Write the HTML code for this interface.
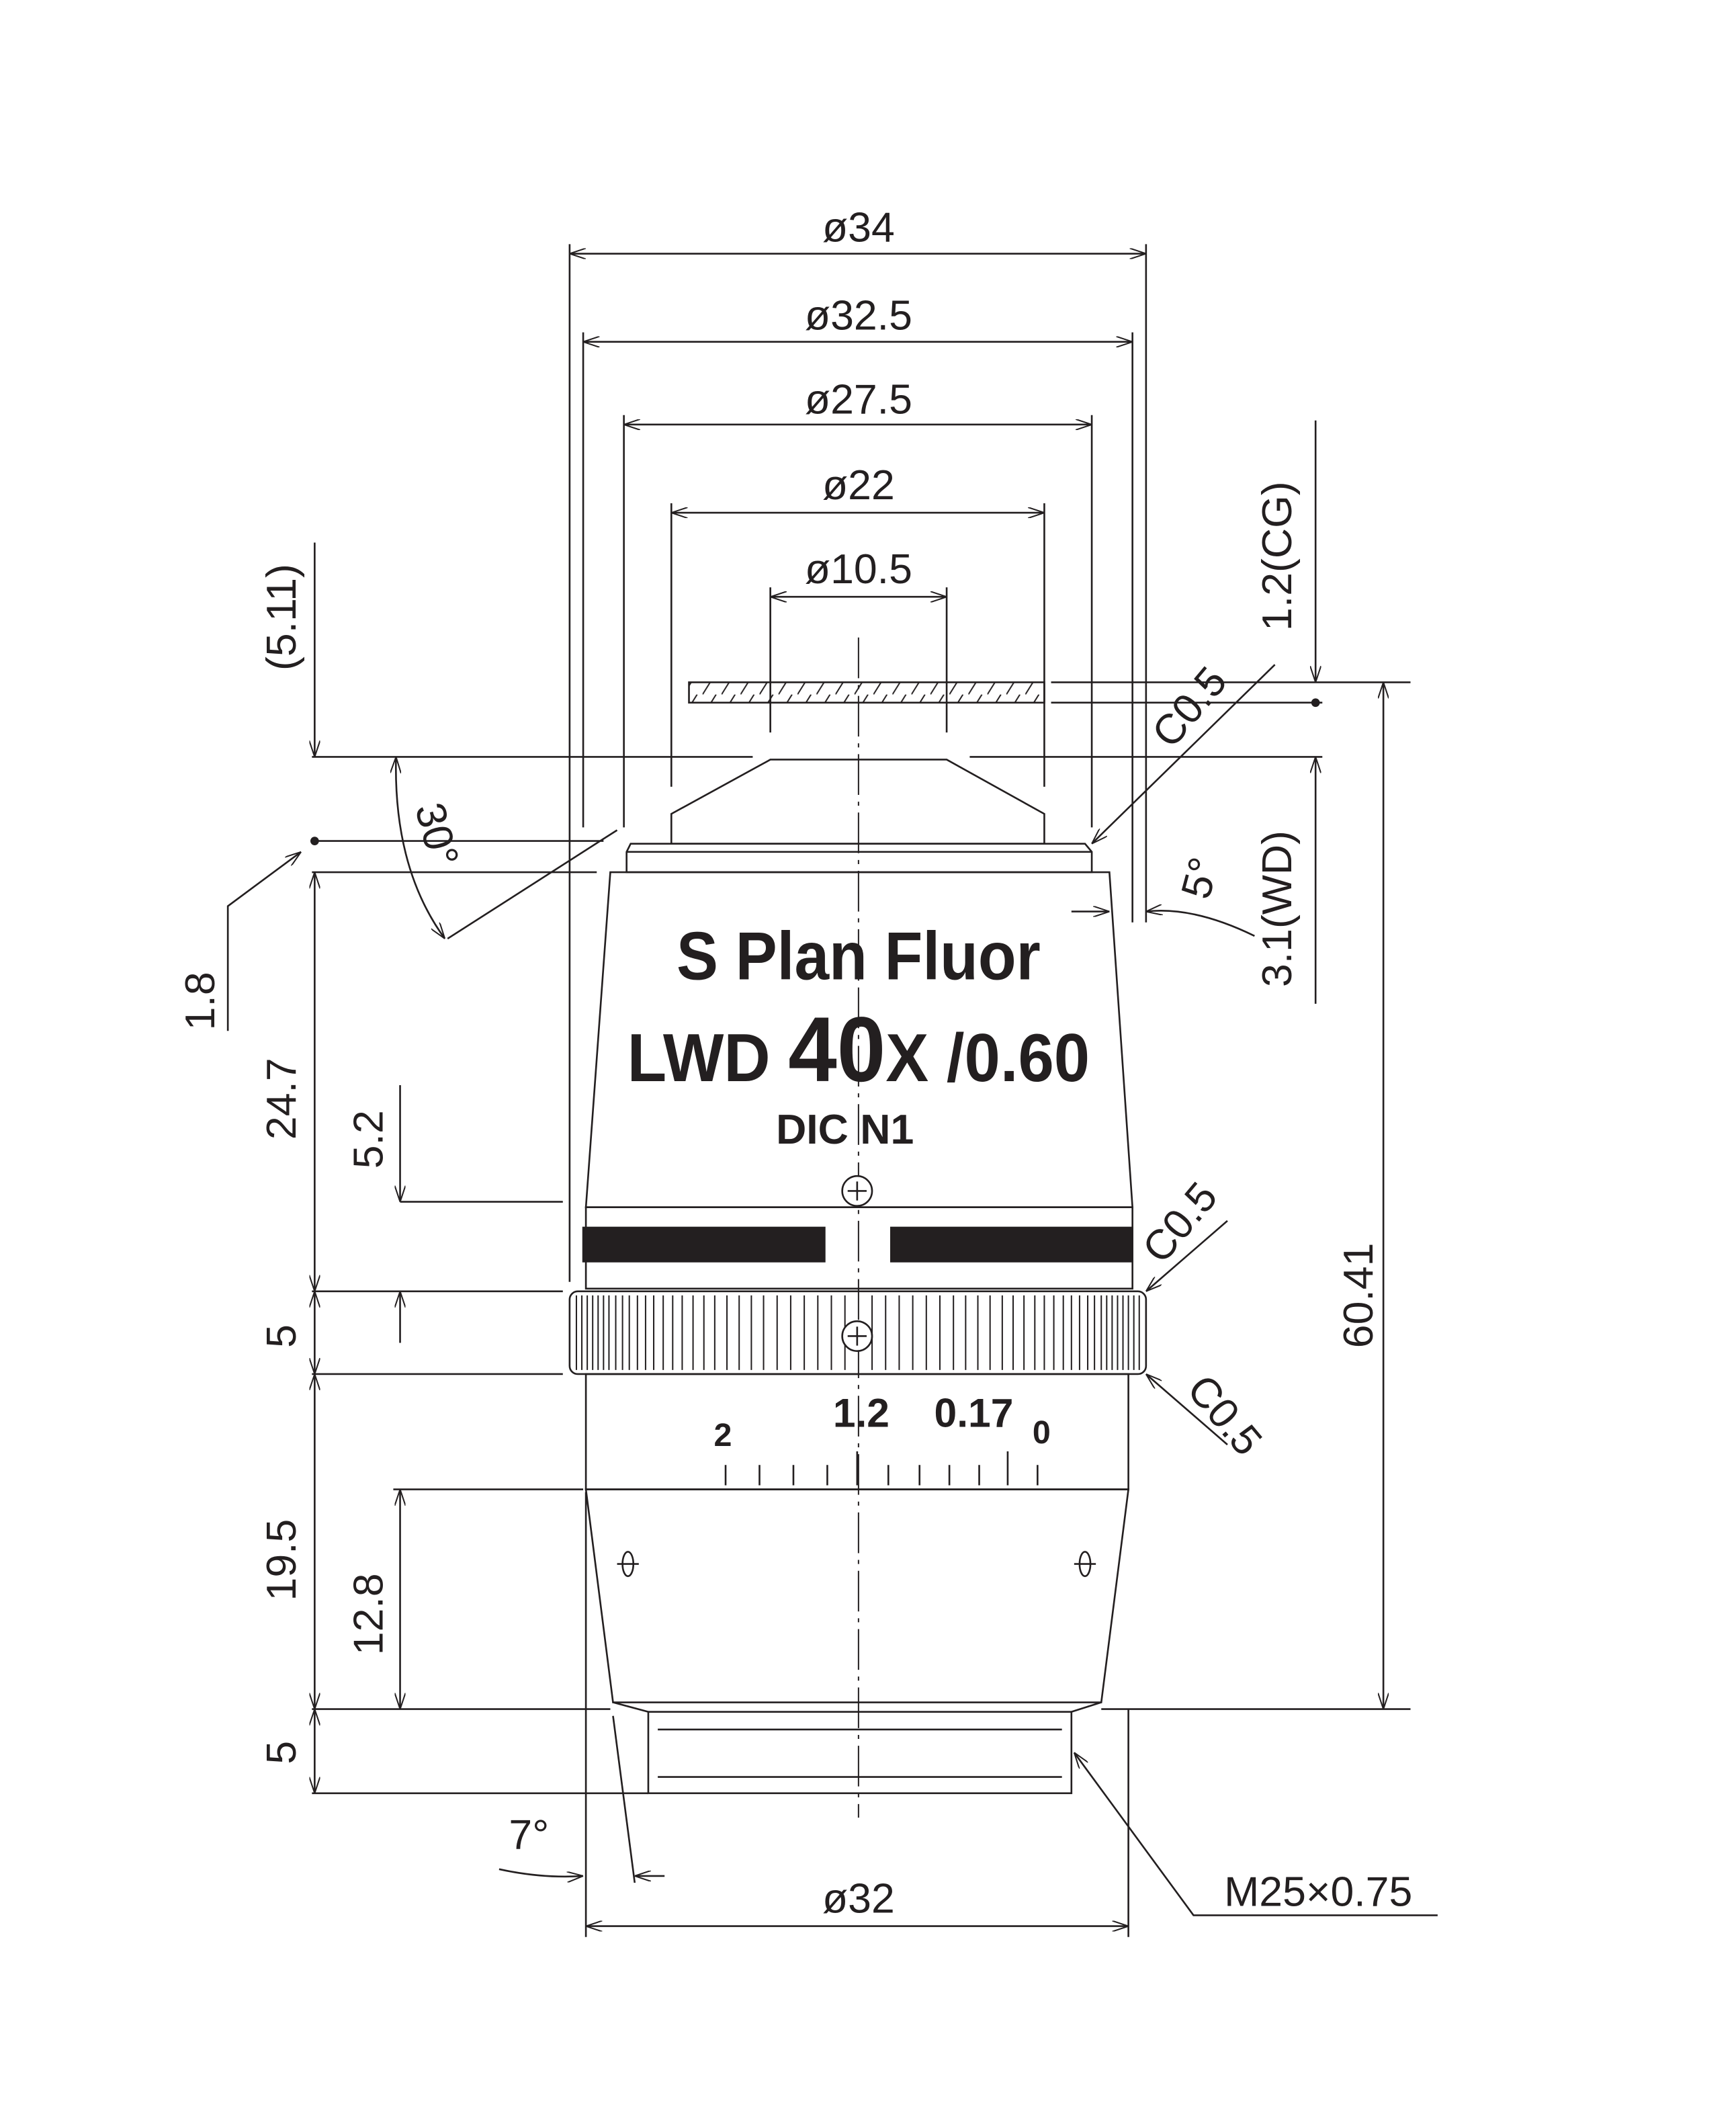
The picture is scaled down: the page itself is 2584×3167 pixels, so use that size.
<!DOCTYPE html>
<html><head><meta charset="utf-8"><style>
html,body{margin:0;padding:0;background:#fff;}
svg{display:block;}
text{font-family:"Liberation Sans",sans-serif;fill:#231f20;}
</style></head><body>
<svg width="2584" height="3167" viewBox="0 0 1280 1568.8" preserveAspectRatio="none" xmlns="http://www.w3.org/2000/svg">
<defs>
<marker id="a" viewBox="0 0 12 8" refX="12" refY="4" markerWidth="12" markerHeight="8" orient="auto-start-reverse" markerUnits="userSpaceOnUse"><path d="M0,0 L12,4 L0,8" fill="none" stroke="#231f20" stroke-width="1"/></marker>
<pattern id="h" width="14" height="16" patternUnits="userSpaceOnUse"><path d="M0,16 L10,0" stroke="#231f20" stroke-width="1"/></pattern>
</defs>
<g stroke="#231f20" stroke-width="1.3" fill="none">
<line x1="420" y1="187" x2="845" y2="187" marker-start="url(#a)" marker-end="url(#a)"/>
<line x1="430" y1="252" x2="835" y2="252" marker-start="url(#a)" marker-end="url(#a)"/>
<line x1="460" y1="313" x2="805" y2="313" marker-start="url(#a)" marker-end="url(#a)"/>
<line x1="495" y1="378" x2="770" y2="378" marker-start="url(#a)" marker-end="url(#a)"/>
<line x1="568" y1="440" x2="698" y2="440" marker-start="url(#a)" marker-end="url(#a)"/>
<line x1="420" y1="180" x2="420" y2="945"/>
<line x1="845" y1="180" x2="845" y2="680"/>
<line x1="430" y1="245" x2="430" y2="610"/>
<line x1="835" y1="245" x2="835" y2="680"/>
<line x1="460" y1="306" x2="460" y2="610"/>
<line x1="805" y1="306" x2="805" y2="610"/>
<line x1="495" y1="371" x2="495" y2="580"/>
<line x1="770" y1="371" x2="770" y2="580"/>
<line x1="568" y1="433" x2="568" y2="540"/>
<line x1="698" y1="433" x2="698" y2="540"/>
<line x1="633" y1="470" x2="633" y2="1340" stroke-width="1" stroke-dasharray="30,5,3,5"/>
<rect x="508" y="503" width="262" height="15" fill="url(#h)"/>
<path d="M568,560 L698,560 L770,600 L770,622 L495,622 L495,600 Z"/>
<path d="M465,622 L800,622 L805,628 L805,643 L462,643 L462,628 Z"/>
<line x1="462" y1="628" x2="805" y2="628"/>
<path d="M450,643 L818,643 L835,890 L432,890 Z"/>
<rect x="432" y="890" width="403" height="60"/>
<rect x="430" y="905" width="178" height="25" fill="#231f20"/>
<rect x="657" y="905" width="178" height="25" fill="#231f20"/>
<rect x="420" y="952" width="425" height="61" rx="6"/>
<g stroke-width="1">
<path d="M425,955 V1010 M429,955 V1010 M433,955 V1010 M437,955 V1010 M441,955 V1010 M445,955 V1010 M840,955 V1010 M836,955 V1010 M832,955 V1010 M828,955 V1010 M824,955 V1010 M820,955 V1010"/>
<path d="M449,955 V1010 M454,955 V1010 M459,955 V1010 M464,955 V1010 M470,955 V1010 M476,955 V1010 M482,955 V1010 M489,955 V1010 M496,955 V1010 M503,955 V1010 M511,955 V1010 M519,955 V1010 M527,955 V1010 M536,955 V1010 M545,955 V1010 M554,955 V1010 M563,955 V1010 M573,955 V1010 M583,955 V1010 M593,955 V1010 M603,955 V1010 M613,955 V1010 M623,955 V1010 M643,955 V1010 M653,955 V1010 M663,955 V1010 M673,955 V1010 M683,955 V1010 M693,955 V1010 M703,955 V1010 M712,955 V1010 M721,955 V1010 M730,955 V1010 M739,955 V1010 M747,955 V1010 M755,955 V1010 M763,955 V1010 M770,955 V1010 M777,955 V1010 M784,955 V1010 M790,955 V1010 M796,955 V1010 M802,955 V1010 M807,955 V1010 M812,955 V1010 M816,955 V1010"/>
</g>
<rect x="432" y="1013" width="400" height="85"/>
<path d="M432,1098 L832,1098 L812,1255 L452,1255 Z"/>
<rect x="478" y="1262" width="312" height="60"/>
<line x1="485" y1="1275" x2="783" y2="1275"/>
<line x1="485" y1="1310" x2="783" y2="1310"/>
<line x1="452" y1="1255" x2="478" y2="1262"/>
<line x1="812" y1="1255" x2="790" y2="1262"/>
<path d="M535,1080 V1095 M560,1080 V1095 M585,1080 V1095 M610,1080 V1095 M632,1070 V1095 M655,1080 V1095 M678,1080 V1095 M700,1080 V1095 M722,1080 V1095 M743,1070 V1095 M765,1080 V1095"/>
<circle cx="632" cy="878" r="11" fill="#fff"/><path d="M632,871 V885 M625,878 H639"/>
<circle cx="632" cy="985" r="11" fill="#fff"/><path d="M632,978 V992 M625,985 H639"/>
<ellipse cx="463" cy="1153" rx="4" ry="9"/><line x1="455" y1="1153" x2="471" y2="1153"/>
<ellipse cx="800" cy="1153" rx="4" ry="9"/><line x1="792" y1="1153" x2="808" y2="1153"/>
<line x1="775" y1="503" x2="1040" y2="503"/>
<line x1="775" y1="518" x2="975" y2="518"/>
<line x1="230" y1="558" x2="555" y2="558"/>
<line x1="715" y1="558" x2="975" y2="558"/>
<line x1="230" y1="620" x2="445" y2="620"/>
<line x1="230" y1="643" x2="440" y2="643"/>
<line x1="230" y1="952" x2="415" y2="952"/>
<line x1="230" y1="1013" x2="415" y2="1013"/>
<line x1="295" y1="886" x2="415" y2="886"/>
<line x1="290" y1="1098" x2="430" y2="1098"/>
<line x1="230" y1="1260" x2="450" y2="1260"/>
<line x1="812" y1="1260" x2="1040" y2="1260"/>
<line x1="230" y1="1322" x2="478" y2="1322"/>
<line x1="232" y1="400" x2="232" y2="558" marker-end="url(#a)"/>
<line x1="232" y1="643" x2="232" y2="952" marker-start="url(#a)" marker-end="url(#a)"/>
<line x1="232" y1="952" x2="232" y2="1013" marker-start="url(#a)" marker-end="url(#a)"/>
<line x1="232" y1="1013" x2="232" y2="1260" marker-start="url(#a)" marker-end="url(#a)"/>
<line x1="232" y1="1260" x2="232" y2="1322" marker-start="url(#a)" marker-end="url(#a)"/>
<circle cx="232" cy="620" r="2.5" fill="#231f20"/>
<path d="M168,760 V668 L222,628" marker-end="url(#a)"/>
<line x1="295" y1="800" x2="295" y2="886" marker-end="url(#a)"/>
<line x1="295" y1="990" x2="295" y2="952" marker-end="url(#a)"/>
<line x1="295" y1="1098" x2="295" y2="1260" marker-start="url(#a)" marker-end="url(#a)"/>
<path d="M292,558 Q290,640 328,692" marker-start="url(#a)" marker-end="url(#a)"/>
<line x1="330" y1="692" x2="455" y2="612"/>
<line x1="1020" y1="503" x2="1020" y2="1260" marker-start="url(#a)" marker-end="url(#a)"/>
<line x1="970" y1="310" x2="970" y2="503" marker-end="url(#a)"/>
<circle cx="970" cy="518" r="2.5" fill="#231f20"/>
<line x1="970" y1="740" x2="970" y2="558" marker-end="url(#a)"/>
<line x1="940" y1="490" x2="805" y2="622" marker-end="url(#a)"/>
<line x1="905" y1="900" x2="845" y2="952" marker-end="url(#a)"/>
<line x1="905" y1="1065" x2="845" y2="1013" marker-end="url(#a)"/>
<path d="M925,690 Q880,668 845,672" marker-end="url(#a)"/>
<path d="M790,672 L818,672" marker-end="url(#a)"/>
<line x1="432" y1="1420" x2="832" y2="1420" marker-start="url(#a)" marker-end="url(#a)"/>
<line x1="432" y1="1100" x2="432" y2="1428"/>
<line x1="832" y1="1260" x2="832" y2="1428"/>
<line x1="452" y1="1265" x2="468" y2="1388"/>
<path d="M368,1378 Q400,1385 430,1383" marker-end="url(#a)"/>
<line x1="490" y1="1383" x2="468" y2="1383" marker-end="url(#a)"/>
<path d="M1060,1412 H880 L792,1292" marker-end="url(#a)"/>
</g>
<g font-size="31" text-anchor="middle">
<text x="633" y="178">ø34</text>
<text x="633" y="243">ø32.5</text>
<text x="633" y="305">ø27.5</text>
<text x="633" y="368">ø22</text>
<text x="633" y="430">ø10.5</text>
<text x="633" y="1410">ø32</text>
<text x="390" y="1363">7°</text>
<text x="972" y="1405">M25×0.75</text>
<text transform="translate(218,455) rotate(-90)">(5.11)</text>
<text transform="translate(158,738) rotate(-90)">1.8</text>
<text transform="translate(218,810) rotate(-90)">24.7</text>
<text transform="translate(282,840) rotate(-90)">5.2</text>
<text transform="translate(218,985) rotate(-90)">5</text>
<text transform="translate(218,1150) rotate(-90)">19.5</text>
<text transform="translate(282,1190) rotate(-90)">12.8</text>
<text transform="translate(218,1292) rotate(-90)">5</text>
<text transform="translate(312,618) rotate(75)">30°</text>
<text transform="translate(1012,955) rotate(-90)">60.41</text>
<text transform="translate(952,410) rotate(-90)">1.2(CG)</text>
<text transform="translate(952,670) rotate(-90)">3.1(WD)</text>
<text transform="translate(895,650) rotate(-75)">5°</text>
<text transform="translate(885,528) rotate(-50)">C0.5</text>
<text transform="translate(878,908) rotate(-50)">C0.5</text>
<text transform="translate(895,1050) rotate(50)">C0.5</text>
</g>
<g font-weight="bold" text-anchor="middle">
<text x="633" y="722" font-size="50" transform="translate(633,0) scale(0.92,1) translate(-633,0)">S Plan Fluor</text>
<text x="633" y="797" font-size="50" transform="translate(633,0) scale(0.95,1) translate(-633,0)"><tspan>LWD </tspan><tspan font-size="68">40</tspan><tspan>X /0.60</tspan></text>
<text x="623" y="843" font-size="31">DIC N1</text>
<text x="533" y="1066" font-size="24">2</text>
<text x="635" y="1052" font-size="30">1.2</text>
<text x="718" y="1052" font-size="30">0.17</text>
<text x="768" y="1064" font-size="24">0</text>
</g>
</svg>
</body></html>
